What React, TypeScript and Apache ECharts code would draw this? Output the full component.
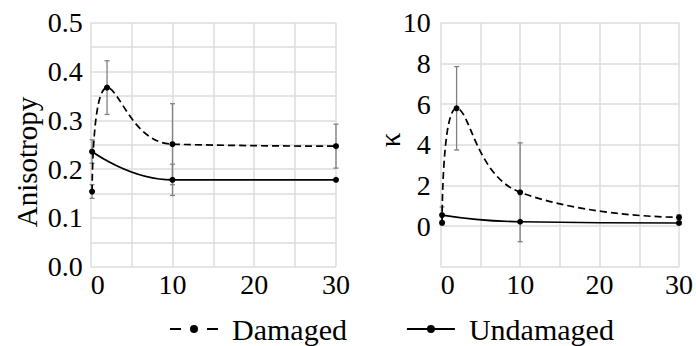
import React, { useEffect, useRef } from "react";
import * as echarts from "echarts";

const FAMILY = "'Liberation Serif', 'Times New Roman', serif";

// Left panel: anisotropy
const damagedX = [0.17, 2, 10, 30];
const damagedAniso = [0.154, 0.367, 0.251, 0.247];
const damagedAnisoErr = [0.014, 0.055, 0.083, 0.045];
const undamagedX = [0.17, 10, 30];
const undamagedAniso = [0.236, 0.178, 0.178];
const undamagedAnisoErr = [0.024, 0.032, 0];

// Right panel: kappa
const damagedKappa = [0.16, 5.79, 1.66, 0.43];
const damagedKappaErr = [0.1, 2.05, 2.43, 0.12];
const undamagedKappa = [0.54, 0.21, 0.15];
const undamagedKappaErr = [0.4, 0, 0.08];

const xTicks = [0, 10, 20, 30];
const legendNames = ["Damaged", "Undamaged"];

const pairs = (xs: number[], ys: number[]) => xs.map((x, i) => [x, ys[i]]);
const errData = (xs: number[], ys: number[], es: number[]) =>
  xs
    .map((x, i) => [x, ys[i] - es[i], ys[i] + es[i]])
    .filter((_, i) => es[i] > 0);

const renderErr = (params: any, api: any) => {
  const x = api.value(0);
  const p1 = api.coord([x, api.value(1)]);
  const p2 = api.coord([x, api.value(2)]);
  const cap = 2.5;
  const style = { stroke: "#808080", lineWidth: 1.3 };
  return {
    type: "group",
    children: [
      { type: "line", shape: { x1: p1[0], y1: p1[1], x2: p2[0], y2: p2[1] }, style },
      { type: "line", shape: { x1: p1[0] - cap, y1: p1[1], x2: p1[0] + cap, y2: p1[1] }, style },
      { type: "line", shape: { x1: p2[0] - cap, y1: p2[1], x2: p2[0] + cap, y2: p2[1] }, style },
    ],
  };
};

const DOT = "M20,4a4,4 0 1,1 8,0a4,4 0 1,1 -8,0z";
const ICON_DASHED = "path://M0,3h11v2H0z M37,3h11v2H37z " + DOT;
const ICON_SOLID = "path://M0,3h48v2H0z " + DOT;

export default function App() {
  const ref = useRef<HTMLDivElement>(null);
  useEffect(() => {
    if (!ref.current) return;
    const chart = echarts.init(ref.current, undefined, { renderer: "svg" });
    const gridLine = { show: true, lineStyle: { color: "#dcdcdc", width: 1.5 } };
    const richT = { t: { fontSize: 28, fontFamily: FAMILY, color: "#000" } };
    const xAxisBase = (gridIndex: number) => ({
      type: "value",
      gridIndex,
      min: 0,
      max: 30,
      interval: 5,
      axisLine: { show: false },
      axisTick: { show: false },
      splitLine: gridLine,
      axisLabel: {
        fontSize: 28,
        fontFamily: FAMILY,
        color: "#000",
        margin: 4,
        interval: 0,
        alignMinLabel: "left",
        rich: richT,
        formatter: (v: number) => (xTicks.includes(v) ? `{t|${v}}` : ""),
      },
    });
    const lineSeries = (
      name: string,
      xs: number[],
      ys: number[],
      idx: number,
      dashed: boolean
    ) => ({
      name,
      type: "line",
      xAxisIndex: idx,
      yAxisIndex: idx,
      data: pairs(xs, ys),
      smooth: 0.5,
      symbol: "circle",
      symbolSize: 6,
      itemStyle: { color: "#000" },
      lineStyle: { color: "#000", width: 1.7, type: dashed ? [7, 4] : "solid" },
      z: 3,
    });
    const errSeries = (xs: number[], ys: number[], es: number[], idx: number) => ({
      type: "custom",
      name: "err" + idx + ys.length,
      xAxisIndex: idx,
      yAxisIndex: idx,
      data: errData(xs, ys, es),
      renderItem: renderErr,
      encode: { x: 0, y: [1, 2] },
      z: 2,
      silent: true,
    });
    chart.setOption({
      animation: false,
      backgroundColor: "#fff",
      textStyle: { fontFamily: FAMILY },
      grid: [
        { left: 90.7, top: 22.7, width: 245.3, height: 244 },
        { left: 440.7, top: 22.7, width: 245.3, height: 244 },
      ],
      xAxis: [xAxisBase(0), xAxisBase(1)],
      yAxis: [
        {
          type: "value",
          gridIndex: 0,
          min: 0,
          max: 0.5,
          interval: 0.05,
          axisLine: { show: false },
          axisTick: { show: false },
          splitLine: gridLine,
          axisLabel: {
            fontSize: 28,
            fontFamily: FAMILY,
            color: "#000",
            margin: 8,
            interval: 0,
            rich: richT,
            formatter: (v: number) =>
              Math.abs(v * 10 - Math.round(v * 10)) < 1e-6 ? `{t|${v.toFixed(1)}}` : "",
          },
        },
        {
          type: "value",
          gridIndex: 1,
          min: -2,
          max: 10,
          interval: 2,
          axisLine: { show: false },
          axisTick: { show: false },
          splitLine: gridLine,
          axisLabel: {
            fontSize: 28,
            fontFamily: FAMILY,
            color: "#000",
            margin: 10,
            rich: richT,
            formatter: (v: number) => (v < 0 ? "" : `{t|${v}}`),
          },
        },
      ],
      legend: {
        data: [
          { name: legendNames[0], icon: ICON_DASHED },
          { name: legendNames[1], icon: ICON_SOLID },
        ],
        left: 165,
        top: 309,
        itemWidth: 48,
        itemHeight: 8,
        itemGap: 60,
        formatter: (name: string) => `{t|${name}}`,
        textStyle: {
          fontSize: 30,
          fontFamily: FAMILY,
          color: "#000",
          rich: { t: { fontSize: 30, fontFamily: FAMILY, color: "#000", padding: [0, 0, 0, 9] } },
        },
      },
      graphic: [
        {
          type: "text",
          x: 27,
          y: 162,
          rotation: Math.PI / 2,
          style: {
            text: "Anisotropy",
            fontSize: 29,
            fontFamily: FAMILY,
            fill: "#000",
            align: "center",
            verticalAlign: "middle",
          },
        },
        {
          type: "text",
          x: 389.5,
          y: 140,
          rotation: Math.PI / 2,
          style: {
            text: "κ",
            fontSize: 29,
            fontFamily: FAMILY,
            fill: "#000",
            align: "center",
            verticalAlign: "middle",
          },
        },
      ],
      series: [
        errSeries(damagedX, damagedAniso, damagedAnisoErr, 0),
        errSeries(undamagedX, undamagedAniso, undamagedAnisoErr, 0),
        errSeries(damagedX, damagedKappa, damagedKappaErr, 1),
        errSeries(undamagedX, undamagedKappa, undamagedKappaErr, 1),
        lineSeries(legendNames[0], damagedX, damagedAniso, 0, true),
        lineSeries(legendNames[1], undamagedX, undamagedAniso, 0, false),
        lineSeries(legendNames[0], damagedX, damagedKappa, 1, true),
        lineSeries(legendNames[1], undamagedX, undamagedKappa, 1, false),
      ],
    });
    return () => chart.dispose();
  }, []);
  return (
    <div
      ref={ref}
      style={{ width: 696, height: 346, position: "fixed", left: 0, top: 0 }}
    />
  );
}
